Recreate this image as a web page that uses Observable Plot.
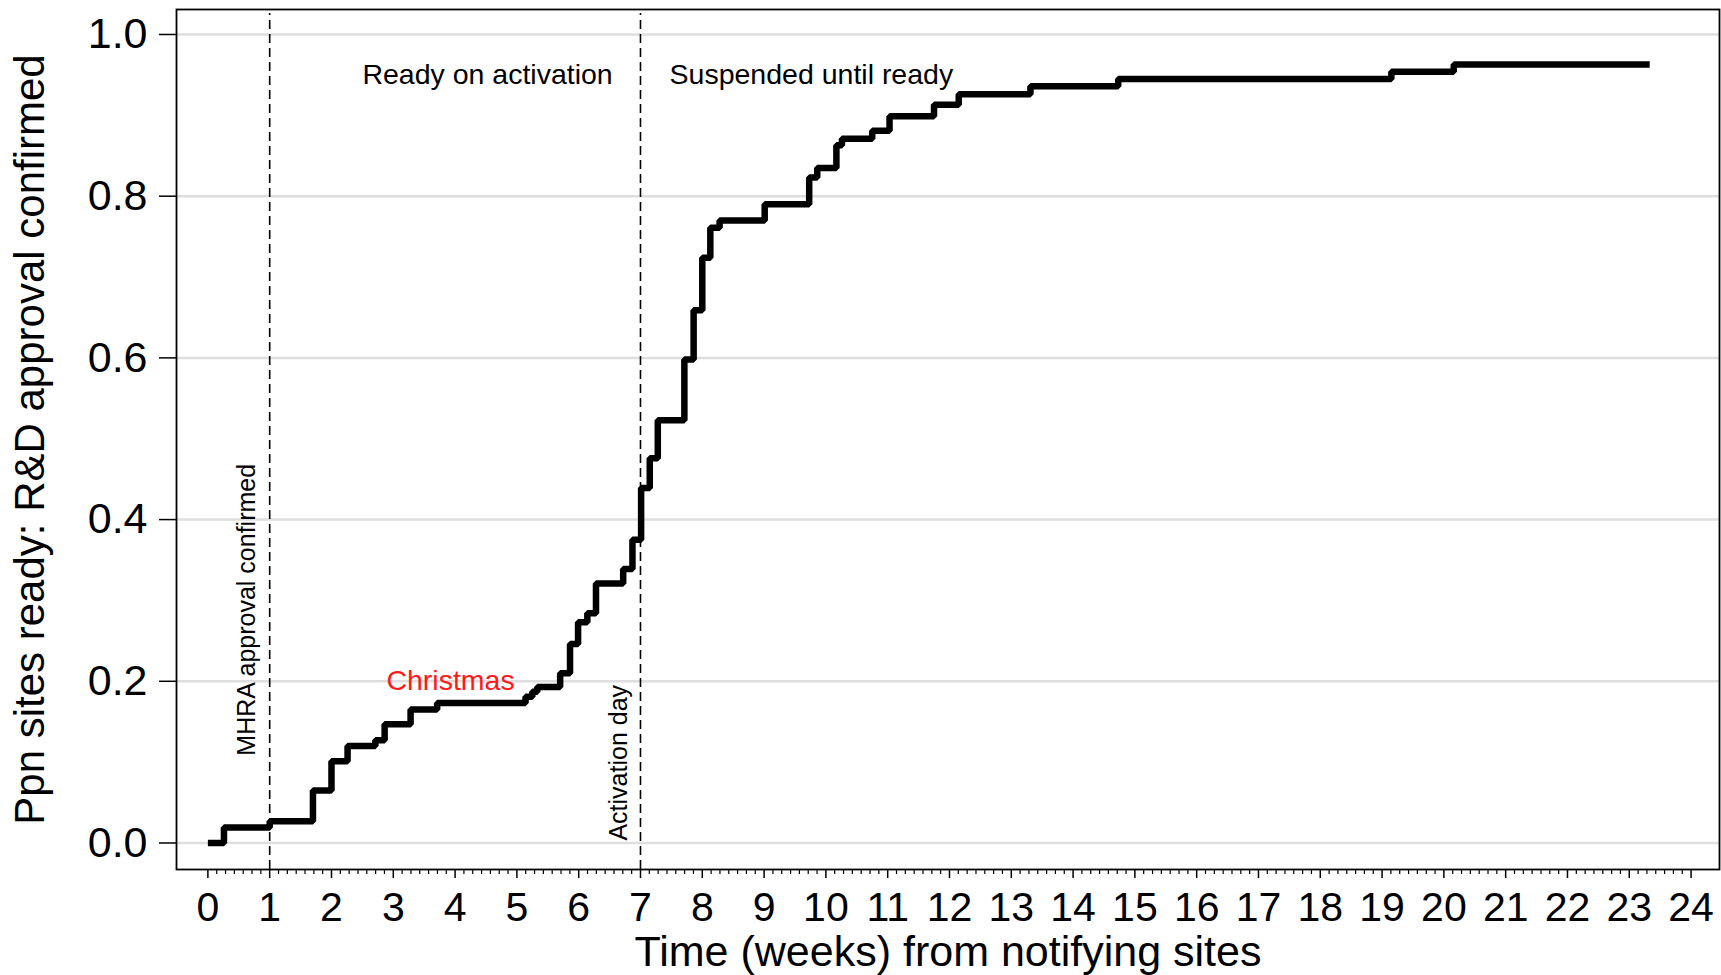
<!DOCTYPE html>
<html>
<head>
<meta charset="utf-8">
<script src="https://cdn.jsdelivr.net/npm/d3@7"></script>
<script src="https://cdn.jsdelivr.net/npm/@observablehq/plot@0.6"></script>
<style>
  html, body { margin: 0; padding: 0; background: #fff; }
  #chart svg { display: block; }
</style>
</head>
<body>
<div id="chart"></div>
<script>
// Step curve: time (weeks) from notifying sites, proportion of sites ready
const weeks = [0, 0.26, 1.0, 1.70, 2.0, 2.26, 2.71, 2.86, 3.28, 3.71, 5.14, 5.25, 5.33, 5.70, 5.86, 5.99, 6.14, 6.28, 6.72, 6.87, 7.01, 7.15, 7.28, 7.71, 7.86, 8.0, 8.13, 8.28, 9.01, 9.73, 9.86, 10.17, 10.26, 10.75, 11.03, 11.75, 12.15, 13.31, 14.73, 19.15, 20.16, 23.33];
const ppn   = [0, 0.019, 0.027, 0.065, 0.101, 0.120, 0.127, 0.147, 0.165, 0.173, 0.181, 0.187, 0.193, 0.210, 0.246, 0.273, 0.284, 0.321, 0.339, 0.375, 0.439, 0.476, 0.523, 0.598, 0.659, 0.724, 0.761, 0.770, 0.790, 0.823, 0.835, 0.863, 0.871, 0.881, 0.899, 0.913, 0.926, 0.936, 0.945, 0.954, 0.963, 0.963];

// Event markers (weeks)
const eventWeeks = [1, 7];
const eventLabels = ["MHRA approval confirmed", "Activation day"];

// Axis ticks
const yTicks = [0, 0.2, 0.4, 0.6, 0.8, 1.0];
const xMajorTicks = d3.range(0, 25);
const xMinorTicks = d3.range(0, 24 * 7 + 1).filter(d => d % 7 !== 0).map(d => d / 7);

const xTitle = "Time (weeks) from notifying sites";
const yTitle = "Ppn sites ready: R&D approval confirmed";

const data = weeks.map((w, i) => ({week: w, ppn: ppn[i]}));

const FONT = "'Liberation Sans', Arial, sans-serif";

const chart = Plot.plot({
  width: 1721,
  height: 975,
  marginLeft: 176,
  marginRight: 2,
  marginTop: 9,
  marginBottom: 106,
  style: {fontFamily: FONT, background: "#fff", color: "#000"},
  x: {domain: [-0.508, 24.46]},
  y: {domain: [-0.0328, 1.0309]},
  marks: [
    Plot.ruleY(yTicks, {stroke: "#dedede", strokeWidth: 2.5}),
    Plot.ruleX(eventWeeks, {y1: -0.0328, y2: 1.026, stroke: "#000", strokeWidth: 1.6, strokeDasharray: "9,5"}),
    Plot.line(data, {x: "week", y: "ppn", curve: "step-after", stroke: "#000", strokeWidth: 6.5, strokeLinejoin: "miter", strokeLinecap: "butt"}),
    Plot.frame({stroke: "#000", strokeWidth: 1.8}),
    Plot.axisY({ticks: yTicks, tickSize: 17, tickPadding: 12, fontSize: 43, tickFormat: d3.format(".1f"), label: null, strokeWidth: 1.5}),
    Plot.axisX({ticks: xMinorTicks, tickSize: 5, tickFormat: () => "", label: null, strokeWidth: 1.2}),
    Plot.axisX({ticks: xMajorTicks, tickSize: 9, tickPadding: 13, fontSize: 41, tickFormat: d => String(d), label: null, strokeWidth: 1.5}),
    // axis titles
    Plot.text([xTitle], {frameAnchor: "bottom", lineAnchor: "top", dy: 66, fontSize: 43, fill: "#000"}),
    Plot.text([yTitle], {frameAnchor: "left", textAnchor: "middle", rotate: -90, dx: -146, fontSize: 42, fill: "#000"}),
    // event labels (rotated)
    Plot.text([eventLabels[0]], {x: 0.64, y: 0.108, rotate: -90, textAnchor: "start", fontSize: 25, fill: "#000"}),
    Plot.text([eventLabels[1]], {x: 6.645, y: 0.003, rotate: -90, textAnchor: "start", fontSize: 25, fill: "#000"}),
    // period labels
    Plot.text(["Ready on activation"], {x: 4.525, y: 0.9505, fontSize: 28.5, fill: "#000"}),
    Plot.text(["Suspended until ready"], {x: 9.765, y: 0.9505, fontSize: 28.5, fill: "#000"}),
    Plot.text(["Christmas"], {x: 3.926, y: 0.201, fontSize: 28.5, fill: "#ff1a1a"})
  ]
});

// drop the empty labels of the minor (daily) tick axis
d3.select(chart).selectAll("text").filter(function () { return this.textContent === ""; }).remove();

document.getElementById("chart").appendChild(chart);
</script>
</body>
</html>
